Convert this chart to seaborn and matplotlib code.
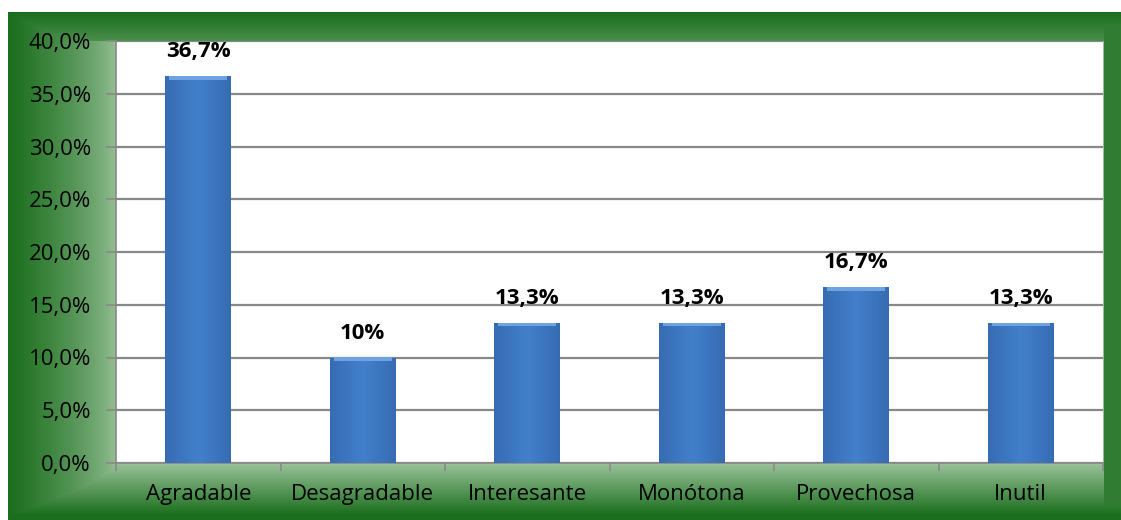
import matplotlib
matplotlib.use("Agg")
import matplotlib.pyplot as plt
import numpy as np
import pandas as pd
import seaborn as sns

# Data
categories = ["Agradable", "Desagradable", "Interesante", "Monótona", "Provechosa", "Inutil"]
values = [36.7, 10.0, 13.3, 13.3, 16.7, 13.3]
bar_labels = ["36,7%", "10%", "13,3%", "13,3%", "16,7%", "13,3%"]
y_ticks = [0, 5, 10, 15, 20, 25, 30, 35, 40]
y_tick_labels = ["0,0%", "5,0%", "10,0%", "15,0%", "20,0%", "25,0%", "30,0%", "35,0%", "40,0%"]

df = pd.DataFrame({"categoria": categories, "valor": values})

sns.set_theme(style="white")
plt.rcParams["font.family"] = ["Open Sans", "DejaVu Sans"]

W, H = 1121, 520
fig = plt.figure(figsize=(W / 100, H / 100), dpi=100)
fig.patch.set_facecolor("white")

# plot area in pixels
px0, px1, py0, py1 = 116, 1103, 41, 463
fx0, fy0 = 8, 12  # outer edge of the green frame

# green frame, lighter next to the plot area
yy, xx = np.mgrid[0:H, 0:W].astype(float)
t = np.zeros((H, W))
t = np.maximum(t, np.clip((px0 - xx) / (px0 - fx0), 0, 1) ** 0.7)
t = np.maximum(t, np.clip((yy - py1) / (H - py1), 0, 1) * 1.1)
t = np.where(yy < py0, np.maximum(t, 0.6 + 0.4 * (py0 - yy) / (py0 - fy0)), t)
t = np.where(xx > px1, np.maximum(t, 0.82), t)
t = np.clip(t, 0, 1)
light = np.array([0.60, 0.76, 0.60])
dark = np.array([0.10, 0.43, 0.11])
img = light[None, None, :] * (1 - t[..., None]) + dark[None, None, :] * t[..., None]
img[(xx < fx0) | (yy < fy0)] = 1.0

bg = fig.add_axes([0, 0, 1, 1], zorder=-1)
bg.imshow(img, extent=[0, W, H, 0], aspect="auto")
bg.set_axis_off()

ax = fig.add_axes([px0 / W, 1 - py1 / H, (px1 - px0) / W, (py1 - py0) / H])
ax.set_facecolor("white")

sns.barplot(data=df, x="categoria", y="valor", color="#3a72c0", width=0.4,
            ax=ax, zorder=3, linewidth=0)

# horizontal shading on each bar
grad = np.linspace(0, 1, 64)
shade = 1 - 0.45 * np.abs(grad - 0.5) * 2
cmap_row = np.stack([0.16 + 0.10 * shade, 0.33 + 0.17 * shade, 0.58 + 0.22 * shade], axis=-1)
bar_img = np.tile(cmap_row[None, :, :], (2, 1, 1))
for p in ax.patches:
    x0, w, h = p.get_x(), p.get_width(), p.get_height()
    im = ax.imshow(bar_img, extent=[x0, x0 + w, 0, h], aspect="auto", zorder=4,
                   interpolation="bilinear")
    im.set_clip_path(p)
    # lighter cap on top
    ax.fill_between([x0 + w * 0.06, x0 + w * 0.94], h - 0.35, h, color="#6fa3e0",
                    zorder=5, linewidth=0)

for p, lab in zip(ax.patches, bar_labels):
    ax.text(p.get_x() + p.get_width() / 2, p.get_height() + 1.3, lab,
            ha="center", va="bottom", fontsize=16, fontweight="bold", color="black", zorder=6)

ax.set_xlim(-0.5, len(categories) - 0.5)
ax.set_ylim(0, 40)
ax.set_yticks(y_ticks)
ax.set_yticklabels(y_tick_labels, fontsize=16, color="black")
ax.yaxis.grid(True, color="#888888", linewidth=1.6, zorder=0)
ax.set_axisbelow(True)

ax.set_xticks(range(len(categories)))
ax.set_xticklabels(categories, fontsize=16, color="black")
ax.set_xlabel("")
ax.set_ylabel("")
ax.tick_params(axis="x", length=0, pad=15)
ax.tick_params(axis="y", length=7, width=1.2, color="#888888", pad=11, left=True)

# category boundary ticks on the x axis
ax.set_xticks(np.arange(-0.5, len(categories)), minor=True)
ax.tick_params(axis="x", which="minor", length=6, width=1.2, color="#888888", bottom=True)

for side in ["top", "right"]:
    ax.spines[side].set_visible(False)
for side in ["left", "bottom"]:
    ax.spines[side].set_visible(True)
    ax.spines[side].set_color("#888888")
    ax.spines[side].set_linewidth(1.2)

fig.savefig("out.png", dpi=100)
